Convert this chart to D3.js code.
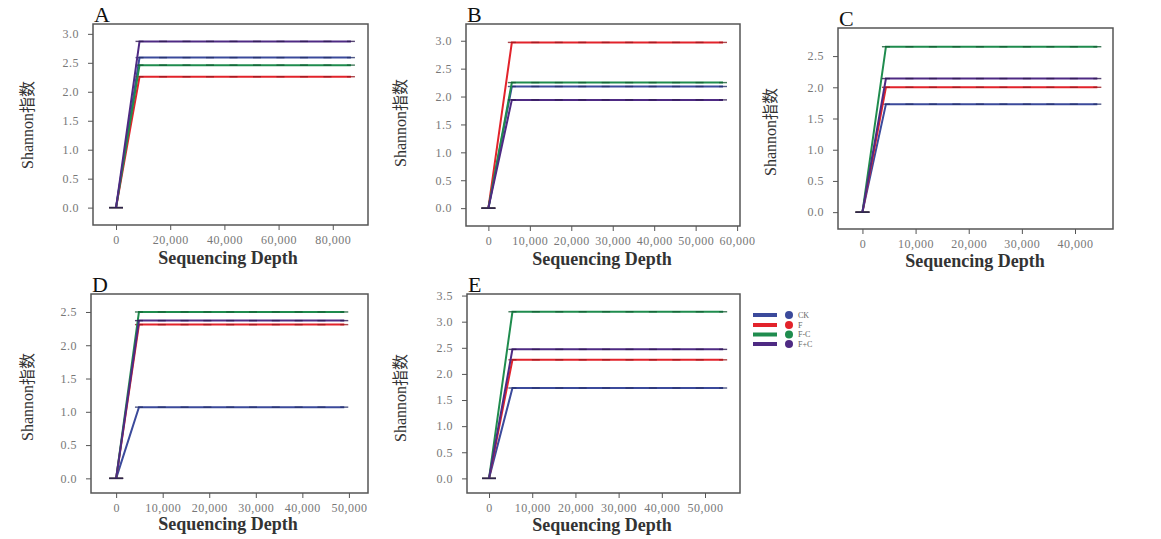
<!DOCTYPE html>
<html>
<head>
<meta charset="utf-8">
<script src="https://cdn.jsdelivr.net/npm/d3@7"></script>
<style>
  body { margin: 0; background: #fff; }
  svg text { font-family: "Liberation Serif", "DejaVu Serif", "Noto Sans CJK SC", serif; }
  .tick text { fill: #777; font-size: 12px; letter-spacing: 0.5px; }
  .tick line { stroke: #555; }
  .domain { display: none; }
</style>
</head>
<body>
<div id="chart"></div>
<script>
// groups + colours
const groups = ["CK", "F", "F-C", "F+C"];
const groupColors = ["#3b4a9b", "#e2232b", "#1f8c4e", "#4e2a83"];
const capColors = ["#25306a", "#9a1a20", "#145c33", "#2f1a52"];

const panelLabels = ["A", "B", "C", "D", "E"];

// sequencing depths (rarefaction steps) per panel
const depthsA = [0, 8670, 17340, 26010, 34680, 43350, 52020, 60690, 69360, 78030, 86700];
const depthsB = [0, 5660, 11320, 16980, 22640, 28300, 33960, 39620, 45280, 50940, 56600];
const depthsC = [0, 4420, 8840, 13260, 17680, 22100, 26520, 30940, 35360, 39780, 44200];
const depthsD = [0, 4900, 9800, 14700, 19600, 24500, 29400, 34300, 39200, 44100, 49000];
const depthsE = [0, 5420, 10840, 16260, 21680, 27100, 32520, 37940, 43360, 48780, 54200];

// plateau Shannon value per group (CK, F, F-C, F+C)
const shannonA = [2.59, 2.26, 2.46, 2.87];
const shannonB = [2.18, 2.97, 2.25, 1.94];
const shannonC = [1.73, 2.00, 2.65, 2.14];
const shannonD = [1.07, 2.31, 2.50, 2.37];
const shannonE = [1.73, 2.27, 3.19, 2.47];

// tick labels
const xTicksA = [0, 20000, 40000, 60000, 80000];
const xTicksB = [0, 10000, 20000, 30000, 40000, 50000, 60000];
const xTicksC = [0, 10000, 20000, 30000, 40000];
const xTicksD = [0, 10000, 20000, 30000, 40000, 50000];
const xTicksE = [0, 10000, 20000, 30000, 40000, 50000];
const yTicksA = [0, 0.5, 1, 1.5, 2, 2.5, 3];
const yTicksB = [0, 0.5, 1, 1.5, 2, 2.5, 3];
const yTicksC = [0, 0.5, 1, 1.5, 2, 2.5];
const yTicksD = [0, 0.5, 1, 1.5, 2, 2.5];
const yTicksE = [0, 0.5, 1, 1.5, 2, 2.5, 3, 3.5];

// layout of each panel (frame box + axis domains)
const panels = [
  { label: panelLabels[0], depths: depthsA, values: shannonA, xTicks: xTicksA, yTicks: yTicksA,
    box: [93, 24, 368, 225], xDom: [-8500, 93000], yDom: [-0.30, 3.17], yLab: [27, 125], xLab: [228, 264] },
  { label: panelLabels[1], depths: depthsB, values: shannonB, xTicks: xTicksB, yTicks: yTicksB,
    box: [466, 24, 740, 226], xDom: [-5400, 60700], yDom: [-0.32, 3.30], yLab: [400, 123], xLab: [602, 265] },
  { label: panelLabels[2], depths: depthsC, values: shannonC, xTicks: xTicksC, yTicks: yTicksC,
    box: [838, 28, 1113, 229], xDom: [-4600, 47150], yDom: [-0.27, 2.95], yLab: [770, 132], xLab: [975, 267] },
  { label: panelLabels[3], depths: depthsD, values: shannonD, xTicks: xTicksD, yTicks: yTicksD,
    box: [91, 294, 368, 493], xDom: [-5400, 54100], yDom: [-0.22, 2.77], yLab: [27, 397], xLab: [228, 530] },
  { label: panelLabels[4], depths: depthsE, values: shannonE, xTicks: xTicksE, yTicks: yTicksE,
    box: [467, 294, 740, 493], xDom: [-5100, 58100], yDom: [-0.28, 3.53], yLab: [400, 398], xLab: [602, 531] }
];

const svg = d3.select("#chart").append("svg")
  .attr("width", 1161)
  .attr("height", 539);

panels.forEach(function (p) {
  const [x0, y0, x1, y1] = p.box;
  const x = d3.scaleLinear().domain(p.xDom).range([x0, x1]);
  const y = d3.scaleLinear().domain(p.yDom).range([y1, y0]);

  const g = svg.append("g");

  // axes
  g.append("g")
    .attr("transform", `translate(0, ${y1})`)
    .call(d3.axisBottom(x).tickValues(p.xTicks).tickFormat(d3.format(",")).tickSize(5).tickPadding(5));
  g.append("g")
    .attr("transform", `translate(${x0}, 0)`)
    .call(d3.axisLeft(y).tickValues(p.yTicks).tickFormat(d3.format(".1f")).tickSize(5).tickPadding(9));

  // series
  const line = d3.line().x(d => x(d[0])).y(d => y(d[1]));
  groups.forEach(function (grp, i) {
    const pts = p.depths.map(dep => [dep, dep === 0 ? 0 : p.values[i]]);
    g.append("path")
      .datum(pts)
      .attr("fill", "none")
      .attr("stroke", groupColors[i])
      .attr("stroke-width", 2)
      .attr("d", line);
    g.selectAll(null)
      .data(pts)
      .enter()
      .append("line")
      .attr("x1", d => x(d[0]) - (d[0] === 0 ? 7 : 4))
      .attr("x2", d => x(d[0]) + (d[0] === 0 ? 7 : 4))
      .attr("y1", d => y(d[1]))
      .attr("y2", d => y(d[1]))
      .attr("stroke", capColors[i])
      .attr("stroke-width", 1.4)
      .attr("opacity", 0.8);
  });

  // frame
  g.append("rect")
    .attr("x", x0).attr("y", y0)
    .attr("width", x1 - x0).attr("height", y1 - y0)
    .attr("fill", "none")
    .attr("stroke", "#555")
    .attr("stroke-width", 1.5);

  // panel letter
  g.append("text")
    .attr("x", x0 + 1).attr("y", y0 - 2)
    .attr("font-size", 22)
    .attr("fill", "#111")
    .text(p.label);

  // axis titles
  g.append("text")
    .attr("x", p.xLab[0]).attr("y", p.xLab[1])
    .attr("text-anchor", "middle")
    .attr("font-size", 18)
    .attr("font-weight", "bold")
    .attr("fill", "#333")
    .text("Sequencing Depth");

  g.append("text")
    .attr("transform", `translate(${p.yLab[0]}, ${p.yLab[1]}) rotate(-90)`)
    .attr("text-anchor", "middle")
    .attr("dy", "0.35em")
    .attr("font-size", 16)
    .attr("fill", "#333")
    .text("Shannon指数");
});

// legend
const legendY = [315, 325, 334.5, 344];
const legend = svg.append("g");
groups.forEach(function (grp, i) {
  legend.append("line")
    .attr("x1", 753).attr("x2", 777)
    .attr("y1", legendY[i]).attr("y2", legendY[i])
    .attr("stroke", groupColors[i])
    .attr("stroke-width", 4);
  legend.append("circle")
    .attr("cx", 789).attr("cy", legendY[i])
    .attr("r", 4)
    .attr("fill", groupColors[i]);
  legend.append("text")
    .attr("x", 798).attr("y", legendY[i])
    .attr("dy", "0.35em")
    .attr("font-size", 8)
    .attr("fill", "#666")
    .text(grp);
});
</script>
</body>
</html>
